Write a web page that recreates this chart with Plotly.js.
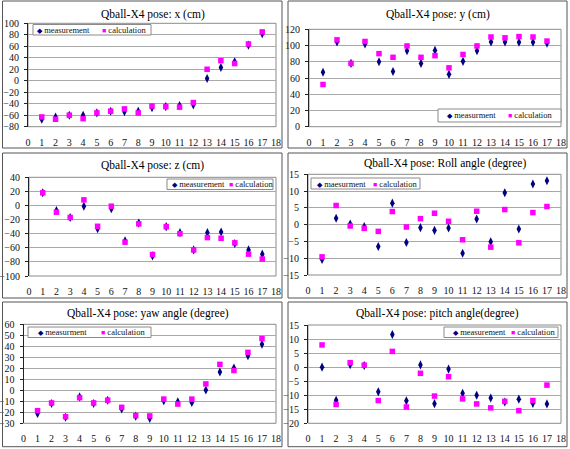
<!DOCTYPE html>
<html>
<head>
<meta charset="utf-8">
<script src="https://cdn.plot.ly/plotly-3.0.1.min.js"></script>
<style>html,body{margin:0;padding:0;background:#fff;}#chart{width:570px;height:449px;}</style>
</head>
<body>
<div id="chart"></div>
<script>
// ---------------- DATA ----------------
const steps = [1, 2, 3, 4, 5, 6, 7, 8, 9, 10, 11, 12, 13, 14, 15, 16, 17];
const xTicks = [0, 1, 2, 3, 4, 5, 6, 7, 8, 9, 10, 11, 12, 13, 14, 15, 16, 17, 18];

const xMeas = [-67, -63, -60, -60, -56, -53, -54, -53, -47, -45, -43, -42, 4, 23, 33, 62, 82];
const xCalc = [-63, -67, -60, -66, -56, -53, -49, -56, -44, -45, -46, -38, 20, 35, 30, 64, 85];

const yMeas = [67, 104.5, 78, 102, 80, 68, 93.5, 78, 94, 64.5, 80.5, 93.5, 104.5, 104.5, 104, 104, 103];
const yCalc = [52, 107, 78, 105, 90, 85.5, 99.5, 85.5, 87.5, 72.5, 89, 99.5, 110.5, 109.5, 111, 110.5, 105.5];

const zMeas = [18, -7, -17, -1, -33, -4.5, -50, -25, -71.5, -30, -38.5, -63, -38.5, -37.5, -54, -63, -69];
const zCalc = [18, -9.5, -17, 8, -29.5, -1, -52, -26, -69.5, -30, -40, -63, -45.5, -46.5, -53, -69, -76];

const rollMeas = [-10.4, 1.9, 0.2, -0.6, -6.5, 6.4, -5.3, -0.9, -1.7, -1, -8.5, 1.7, -5.1, 9.5, -1.3, 12.1, 13.1];
const rollCalc = [-9.6, 5.7, -0.4, -1.1, -2, 3.9, -0.7, 1.8, 3.4, 1, -4.5, 4, -6.7, 4.5, -5.4, 3.6, 5.4];

const yawMeas = [-21, -12, -24.5, -6, -12, -9, -17, -23.5, -25.5, -9.5, -10.5, -11, 0.3, 16.7, 20.3, 31.5, 41.8];
const yawCalc = [-18.5, -11.5, -24, -6.7, -11.5, -9, -15.5, -23, -23.3, -8, -12.5, -8, 5.8, 23.6, 18, 34.5, 47];

const pitchMeas = [0, -11.8, 0.9, 0.6, -8.8, 11.6, -12, 0.8, -13, -0.7, -9.3, -10, -11, -12.4, -11.4, -12.9, -13.1];
const pitchCalc = [7.9, -13.3, 1.6, 0.7, -11.9, 5.6, -14.2, -2.2, -10.3, -3.4, -11.3, -13.1, -14.5, -12.2, -15.5, -11.9, -6.4];

const titles = [
  'Qball-X4 pose: x (cm)', 'Qball-X4 pose: y (cm)',
  'Qball-X4 pose: z (cm)', 'Qball-X4 pose: Roll angle (degree)',
  'Qball-X4 pose: yaw angle (degree)', 'Qball-X4 pose: pitch angle(degree)'
];
const measNames = ['measurement', 'measurment', 'measurement', 'maesurment', 'measurment', 'measurement'];
const calcName = 'calculation';
const yRanges = [[-80, 100], [0, 120], [-100, 40], [-15, 15], [-30, 60], [-20, 15]];
const yDticks = [20, 20, 20, 5, 10, 5];
const measSeries = [xMeas, yMeas, zMeas, rollMeas, yawMeas, pitchMeas];
const calcSeries = [xCalc, yCalc, zCalc, rollCalc, yawCalc, pitchCalc];

// ---------------- LAYOUT GEOMETRY (pixels) ----------------
const W = 570, H = 449;
const fx = v => v / W;
const fy = v => 1 - v / H;

const geo = [
  {plot: [28, 276, 23.3, 126.7], frame: [2.5, 282, 1, 148], tx: 153, ty: 15,
   leg: [33, 151, 24.5, 35], i1: 35, i2: 100},
  {plot: [309, 561, 29.3, 126.7], frame: [288, 567, 1, 148], tx: 438, ty: 15,
   leg: [438, 561, 109, 122], i1: 445, i2: 506},
  {plot: [29, 276, 177.3, 276], frame: [2.5, 282, 153, 298], tx: 152.5, ty: 165,
   leg: [167, 273, 179, 189.5], i1: 170, i2: 227},
  {plot: [308, 561, 174.3, 275], frame: [288, 567, 153, 298], tx: 444.5, ty: 164,
   leg: [311, 420, 178, 189], i1: 315, i2: 371},
  {plot: [23.5, 276, 324.3, 423.3], frame: [2.5, 282, 302, 446.7], tx: 147.5, ty: 313,
   leg: [28, 151, 327, 337.5], i1: 36, i2: 99},
  {plot: [308, 561, 325, 423.3], frame: [288, 567, 302, 446.7], tx: 438, ty: 313,
   leg: [444, 558, 327, 337.5], i1: 451, i2: 509}
];

const FONT = 'Liberation Serif';
const NAVY = '#000080', MAG = '#ff00ff';

const data = [];
const layout = {
  width: W, height: H,
  margin: {l: 0, r: 0, t: 0, b: 0},
  paper_bgcolor: '#ffffff',
  plot_bgcolor: '#ffffff',
  showlegend: false,
  font: {family: FONT, color: '#000', size: 10},
  shapes: [],
  annotations: []
};

for (let i = 0; i < 6; i++) {
  const g = geo[i];
  const n = i + 1;
  const xa = 'xaxis' + (n === 1 ? '' : n);
  const ya = 'yaxis' + (n === 1 ? '' : n);
  const xr = 'x' + (n === 1 ? '' : n);
  const yr = 'y' + (n === 1 ? '' : n);
  const xdom = [fx(g.plot[0]), fx(g.plot[1])];
  const ydom = [fy(g.plot[3]), fy(g.plot[2])];
  const rng = yRanges[i];

  layout[xa] = {
    domain: xdom, anchor: yr, range: [0, 18], tickmode: 'array', tickvals: xTicks,
    ticktext: xTicks.map(String), showgrid: false, zeroline: false, showline: false,
    ticks: 'outside', ticklen: 6, tickcolor: 'rgba(0,0,0,0)',
    tickfont: {family: FONT, size: 10, color: '#111'}, fixedrange: true
  };
  layout[ya] = {
    domain: ydom, anchor: xr, range: rng, dtick: yDticks[i], tick0: 0,
    showgrid: true, gridcolor: '#a8a8a8', gridwidth: 1, zeroline: false,
    showline: true, linecolor: '#222', linewidth: 1,
    ticks: 'outside', ticklen: 3, tickcolor: '#222', ticklabelstandoff: 3,
    tickfont: {family: FONT, size: 10, color: '#111'}, fixedrange: true
  };
  // axis crossing at y = 0 with tick marks
  const on = 6 + n;
  const zeroPos = ydom[0] + (0 - rng[0]) / (rng[1] - rng[0]) * (ydom[1] - ydom[0]);
  layout['xaxis' + on] = {
    overlaying: xr, anchor: 'free', position: zeroPos, side: 'bottom', domain: xdom,
    range: [0, 18], tickmode: 'array', tickvals: xTicks, showticklabels: false,
    showgrid: false, zeroline: false, showline: true, linecolor: '#111', linewidth: 1,
    ticks: 'inside', ticklen: 4, tickcolor: '#111', fixedrange: true
  };

  // plot area border
  layout.shapes.push({type: 'rect', xref: xr + ' domain', yref: yr + ' domain',
    x0: 0, x1: 1, y0: 0, y1: 1, line: {color: '#8a8a8a', width: 1}, layer: 'below'});
  // panel frame
  layout.shapes.push({type: 'rect', xref: 'paper', yref: 'paper',
    x0: fx(g.frame[0]), x1: fx(g.frame[1]), y0: fy(g.frame[3]), y1: fy(g.frame[2]),
    line: {color: '#555', width: 1}});

  // title
  layout.annotations.push({text: titles[i], xref: 'paper', yref: 'paper',
    x: fx(g.tx), y: fy(g.ty), xanchor: 'center', yanchor: 'middle', showarrow: false,
    font: {family: FONT, size: 11.5, color: '#000'}});

  // legend box
  layout.shapes.push({type: 'rect', xref: 'paper', yref: 'paper',
    x0: fx(g.leg[0]), x1: fx(g.leg[1]), y0: fy(g.leg[3]), y1: fy(g.leg[2]),
    line: {color: '#8a8a8a', width: 1}, fillcolor: '#ffffff', layer: 'above'});
  const ly = fy((g.leg[2] + g.leg[3]) / 2);
  layout.annotations.push({
    text: '<span style="color:' + NAVY + ';font-size:7px">◆</span> ' + measNames[i],
    xref: 'paper', yref: 'paper', x: fx(g.i1), y: ly, xanchor: 'left', yanchor: 'middle',
    showarrow: false, font: {family: FONT, size: 8.5, color: '#111'}});
  layout.annotations.push({
    text: '<span style="color:' + MAG + ';font-size:7px">■</span> ' + calcName,
    xref: 'paper', yref: 'paper', x: fx(g.i2), y: ly, xanchor: 'left', yanchor: 'middle',
    showarrow: false, font: {family: FONT, size: 8.5, color: '#111'}});

  data.push({
    type: 'scatter', mode: 'markers', x: steps, y: measSeries[i], name: measNames[i],
    xaxis: xr, yaxis: yr, cliponaxis: false,
    marker: {symbol: 'diamond-tall', size: 6.5, color: NAVY}
  });
  data.push({
    type: 'scatter', mode: 'markers', x: steps, y: calcSeries[i], name: calcName,
    xaxis: xr, yaxis: yr, cliponaxis: false,
    marker: {symbol: 'square', size: 5.5, color: MAG}
  });
}

Plotly.newPlot('chart', data, layout, {staticPlot: true, displayModeBar: false});
</script>
</body>
</html>
